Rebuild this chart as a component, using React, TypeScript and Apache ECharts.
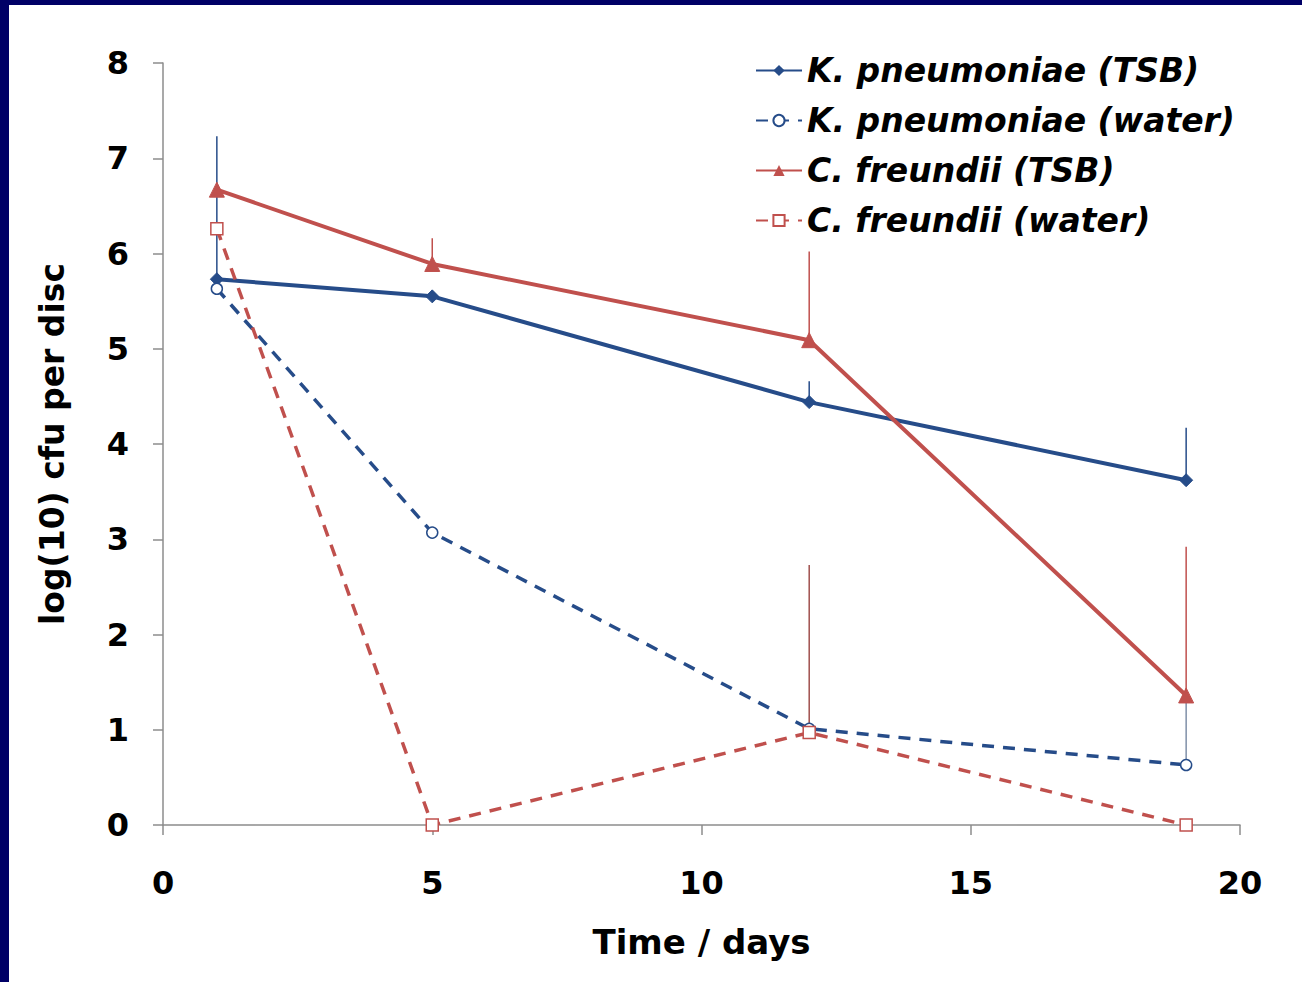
import React, { useEffect, useRef } from "react";
import * as echarts from "echarts";

const days = [1, 5, 12, 19];
const kpTSB = [5.73, 5.55, 4.44, 3.62];
const kpTSBErr = [1.5, 0.0, 0.22, 0.55];
const kpWater = [5.63, 3.07, 1.01, 0.63];
const kpWaterErr = [0, 0, 0, 0.73];
const cfTSB = [6.67, 5.89, 5.09, 1.36];
const cfTSBErr = [0, 0.27, 0.93, 1.56];
const cfWater = [6.26, 0, 0.97, 0];
const cfWaterErr = [0, 0, 1.76, 0];
const xTicks = [0, 5, 10, 15, 20];
const yTicks = [0, 1, 2, 3, 4, 5, 6, 7, 8];

const BLUE = "#264c89";
const RED = "#c0504d";
const FONT = "'DejaVu Sans', Verdana, sans-serif";

function errSeries(vals: number[], errs: number[], color: string, width: number) {
  return {
    type: "custom",
    silent: true,
    z: 1,
    data: days.map((d, i) => [d, vals[i], vals[i] + errs[i]]).filter((_, i) => errs[i] > 0),
    renderItem: (params: any, api: any) => {
      const p0 = api.coord([api.value(0), api.value(1)]);
      const p1 = api.coord([api.value(0), api.value(2)]);
      return {
        type: "line",
        shape: { x1: p0[0], y1: p0[1], x2: p1[0], y2: p1[1] },
        style: { stroke: color, lineWidth: width },
      };
    },
  };
}

export default function App() {
  const ref = useRef<HTMLDivElement>(null);
  useEffect(() => {
    if (!ref.current) return;
    const chart = echarts.init(ref.current, null, { renderer: "svg" });
    const pts = (v: number[]) => days.map((d, i) => [d, v[i]]);
    chart.setOption({
      animation: false,
      backgroundColor: "#ffffff",
      grid: { left: 154, right: 62, top: 58, bottom: 157 },
      legend: {
        orient: "vertical",
        left: 741,
        top: 44,
        itemWidth: 46,
        itemHeight: 14,
        itemGap: 17,
        textStyle: { fontFamily: FONT, fontSize: 33, fontWeight: "bold", fontStyle: "italic", color: "#000" },
        data: [
          "K. pneumoniae (TSB)",
          "K. pneumoniae (water)",
          "C. freundii (TSB)",
          "C. freundii (water)",
        ],
      },
      xAxis: {
        type: "value",
        min: 0,
        max: 20,
        interval: 5,
        name: "Time / days",
        nameLocation: "middle",
        nameGap: 100,
        nameTextStyle: { fontFamily: FONT, fontSize: 34, fontWeight: "bold", color: "#000" },
        axisLine: { lineStyle: { color: "#8c8c8c", width: 1.5 } },
        axisTick: { show: true, length: 10, lineStyle: { color: "#8c8c8c", width: 1.5 } },
        splitLine: { show: false },
        axisLabel: {
          margin: 42,
          fontFamily: FONT,
          fontSize: 32,
          fontWeight: "bold",
          color: "#000",
          formatter: (v: number) => (xTicks.includes(v) ? String(v) : ""),
        },
      },
      yAxis: {
        type: "value",
        min: 0,
        max: 8,
        interval: 1,
        name: "log(10) cfu per disc",
        nameLocation: "middle",
        nameGap: 94,
        nameTextStyle: { fontFamily: FONT, fontSize: 33, fontWeight: "bold", color: "#000" },
        axisLine: { show: true, lineStyle: { color: "#8c8c8c", width: 1.5 } },
        axisTick: { show: true, length: 10, lineStyle: { color: "#8c8c8c", width: 1.5 } },
        splitLine: { show: false },
        axisLabel: {
          margin: 34,
          fontFamily: FONT,
          fontSize: 32,
          fontWeight: "bold",
          color: "#000",
          formatter: (v: number) => (yTicks.includes(v) ? String(v) : ""),
        },
      },
      series: [
        errSeries(kpTSB, kpTSBErr, BLUE, 1.5),
        errSeries(kpWater, kpWaterErr, "#7f8fa8", 1.5),
        errSeries(cfTSB, cfTSBErr, RED, 1.5),
        errSeries(cfWater, cfWaterErr, "#a0504d", 1.5),
        {
          name: "K. pneumoniae (TSB)",
          type: "line",
          data: pts(kpTSB),
          z: 3,
          symbol: "diamond",
          symbolSize: 13,
          lineStyle: { color: BLUE, width: 4 },
          itemStyle: { color: BLUE, borderColor: BLUE },
        },
        {
          name: "K. pneumoniae (water)",
          type: "line",
          data: pts(kpWater),
          z: 3,
          symbol: "circle",
          symbolSize: 11,
          lineStyle: { color: BLUE, width: 3.5, type: [12, 9] },
          itemStyle: { color: "#ffffff", borderColor: BLUE, borderWidth: 1.5 },
        },
        {
          name: "C. freundii (TSB)",
          type: "line",
          data: pts(cfTSB),
          z: 3,
          symbol: "triangle",
          symbolSize: 15,
          lineStyle: { color: RED, width: 4 },
          itemStyle: { color: RED, borderColor: RED },
        },
        {
          name: "C. freundii (water)",
          type: "line",
          data: pts(cfWater),
          z: 3,
          symbol: "rect",
          symbolSize: 12,
          lineStyle: { color: RED, width: 3.5, type: [12, 9] },
          itemStyle: { color: "#ffffff", borderColor: RED, borderWidth: 1.5 },
        },
      ],
    });
    return () => chart.dispose();
  }, []);
  return (
    <div style={{ position: "fixed", left: 0, top: 0, width: 1302, height: 982, background: "#000066" }}>
      <div ref={ref} style={{ position: "absolute", left: 9, top: 5, width: 1293, height: 977 }} />
    </div>
  );
}
